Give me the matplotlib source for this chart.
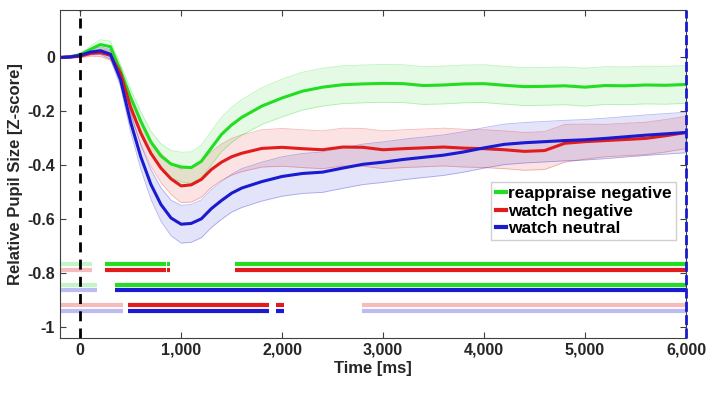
import numpy as np
import matplotlib
matplotlib.use('Agg')
import matplotlib.pyplot as plt

# data ########################################################################
t = [-200, -100, 0, 100, 200, 300, 400, 500, 600, 700, 800, 900, 1000, 1100,
     1200, 1300, 1400, 1500, 1600, 1800, 2000, 2200, 2400, 2600, 2800, 3000,
     3200, 3400, 3600, 3800, 4000, 4200, 4400, 4600, 4800, 5000, 5200, 5400,
     5600, 5800, 6000]

reappraise_neg = [0.0, 0.003, 0.01, 0.03, 0.048, 0.04, -0.05, -0.148, -0.236,
                  -0.313, -0.365, -0.395, -0.406, -0.408, -0.385, -0.335,
                  -0.285, -0.25, -0.222, -0.18, -0.15, -0.125, -0.11, -0.101,
                  -0.098, -0.096, -0.097, -0.104, -0.102, -0.098, -0.097,
                  -0.103, -0.108, -0.107, -0.105, -0.11, -0.104, -0.105,
                  -0.102, -0.103, -0.1]
watch_neg = [0.0, 0.002, 0.005, 0.015, 0.018, 0.008, -0.06, -0.185, -0.28,
             -0.355, -0.41, -0.45, -0.476, -0.472, -0.452, -0.415, -0.388,
             -0.368, -0.355, -0.337, -0.333, -0.338, -0.342, -0.332, -0.333,
             -0.342, -0.338, -0.335, -0.332, -0.336, -0.338, -0.342, -0.348,
             -0.345, -0.318, -0.312, -0.308, -0.304, -0.3, -0.29, -0.278]
watch_neu = [0.0, 0.002, 0.008, 0.02, 0.025, 0.012, -0.083, -0.24, -0.368,
             -0.47, -0.545, -0.595, -0.618, -0.615, -0.598, -0.56, -0.53,
             -0.503, -0.484, -0.46, -0.441, -0.43, -0.425, -0.41, -0.396,
             -0.388, -0.378, -0.37, -0.362, -0.35, -0.335, -0.322, -0.316,
             -0.312, -0.308, -0.305, -0.3, -0.294, -0.288, -0.283, -0.278]

sem_reappraise_neg = [0.003, 0.004, 0.006, 0.012, 0.018, 0.02, 0.024, 0.03,
                      0.035, 0.04, 0.045, 0.05, 0.055, 0.058, 0.06, 0.062,
                      0.064, 0.065, 0.066, 0.068, 0.07, 0.07, 0.07, 0.07,
                      0.07, 0.07, 0.07, 0.07, 0.07, 0.07, 0.07, 0.07, 0.07,
                      0.07, 0.07, 0.07, 0.07, 0.07, 0.07, 0.07, 0.07]
sem_watch_neg = [0.003, 0.004, 0.006, 0.01, 0.014, 0.018, 0.024, 0.032,
                 0.04, 0.048, 0.054, 0.058, 0.062, 0.064, 0.066, 0.066, 0.067,
                 0.068, 0.068, 0.069, 0.07, 0.07, 0.07, 0.07, 0.07, 0.07,
                 0.07, 0.07, 0.07, 0.07, 0.07, 0.07, 0.07, 0.07, 0.07, 0.065,
                 0.06, 0.06, 0.06, 0.06, 0.06]
sem_watch_neu = [0.003, 0.004, 0.006, 0.01, 0.014, 0.018, 0.026, 0.036,
                 0.045, 0.055, 0.062, 0.066, 0.07, 0.07, 0.07, 0.07, 0.07,
                 0.07, 0.072, 0.072, 0.073, 0.074, 0.075, 0.075, 0.075, 0.075,
                 0.075, 0.075, 0.075, 0.075, 0.075, 0.075, 0.075, 0.075,
                 0.075, 0.075, 0.075, 0.075, 0.075, 0.075, 0.075]

labels = ['reappraise negative', 'watch negative', 'watch neutral']

# significance rows: (y level, colour, light segments, dark segments)
sig_y = [-0.766, -0.787, -0.845, -0.862, -0.919, -0.939]
sig_col = ['g', 'r', 'g', 'b', 'r', 'b']
sig_light = [[(-200, 115)], [(-200, 115)],
             [(-200, 164)], [(-200, 164)],
             [(-200, 427), (2788, 6000)], [(-200, 427), (2788, 6000)]]
sig_dark = [[(246, 850), (862, 887), (1537, 6000)],
            [(246, 850), (862, 887), (1537, 6000)],
            [(345, 6000)], [(345, 6000)],
            [(470, 1872), (1938, 2020)], [(470, 1872), (1938, 2020)]]

xticks = [0, 1000, 2000, 3000, 4000, 5000, 6000]
xticklabels = ['0', '1,000', '2,000', '3,000', '4,000', '5,000', '6,000']
yticks = [-1, -0.8, -0.6, -0.4, -0.2, 0]
yticklabels = ['-1', '-0.8', '-0.6', '-0.4', '-0.2', '0']
###############################################################################

dark = {'g': '#22dd22', 'r': '#e01c1c', 'b': '#1a1ad0'}
light = {'g': '#c4f5c4', 'r': '#f6bcbc', 'b': '#bcbcf2'}

plt.rcParams['font.family'] = ['Liberation Sans', 'DejaVu Sans']
plt.rcParams['font.weight'] = 'bold'

fig = plt.figure(figsize=(7.09, 3.94), dpi=100)
ax = fig.add_axes([0.0846, 0.142, 0.8829, 0.8326])

series = [(reappraise_neg, sem_reappraise_neg, 'g'),
          (watch_neg, sem_watch_neg, 'r'),
          (watch_neu, sem_watch_neu, 'b')]
tt = np.array(t)
for (m, s, c), lab in zip(series, labels):
    m = np.array(m)
    s = np.array(s)
    ax.fill_between(tt, m - s, m + s, color=dark[c], alpha=0.12, lw=0)
    ax.plot(tt, m - s, color=dark[c], alpha=0.3, lw=0.6)
    ax.plot(tt, m + s, color=dark[c], alpha=0.3, lw=0.6)
for (m, s, c), lab in zip(series, labels):
    ax.plot(tt, m, color=dark[c], lw=2.2, label=lab)

for y, c, segl, segd in zip(sig_y, sig_col, sig_light, sig_dark):
    for a, b in segl:
        ax.plot([a, b], [y, y], color=light[c], lw=3.0, solid_capstyle='butt')
    for a, b in segd:
        ax.plot([a, b], [y, y], color=dark[c], lw=3.0, solid_capstyle='butt')

ax.axvline(0, color='k', ls=(0, (3.6, 2.6)), lw=2)
ax.axvline(6000, color='#1a1ad0', ls=(0, (3.6, 1.2)), lw=2, clip_on=False,
           zorder=5)

ax.set_xlim(-200, 6000)
ax.set_ylim(-1.04, 0.176)
ax.set_xticks(xticks)
ax.set_xticklabels(xticklabels)
ax.set_yticks(yticks)
ax.set_yticklabels(yticklabels)
ax.tick_params(direction='in', top=True, right=True, length=4, width=0.8,
               colors='#404040', labelsize=11.5, labelcolor='#262626')
for sp in ax.spines.values():
    sp.set_color('#404040')
    sp.set_linewidth(0.8)

ax.set_xlabel('Time [ms]', fontsize=12, fontweight='bold', color='#262626',
              labelpad=2)
ax.set_ylabel('Relative Pupil Size [Z-score]', fontsize=12,
              fontweight='bold', color='#262626', labelpad=3)

leg = ax.legend(loc='upper left', bbox_to_anchor=(0.689, 0.476),
                fontsize=12.5, handlelength=0.6, handletextpad=0.1,
                borderpad=0.25, labelspacing=0.12, fancybox=False,
                framealpha=1, edgecolor='#d0d0d0', borderaxespad=0)
for line in leg.get_lines():
    line.set_linewidth(3)

plt.savefig('out.png', dpi=100)
